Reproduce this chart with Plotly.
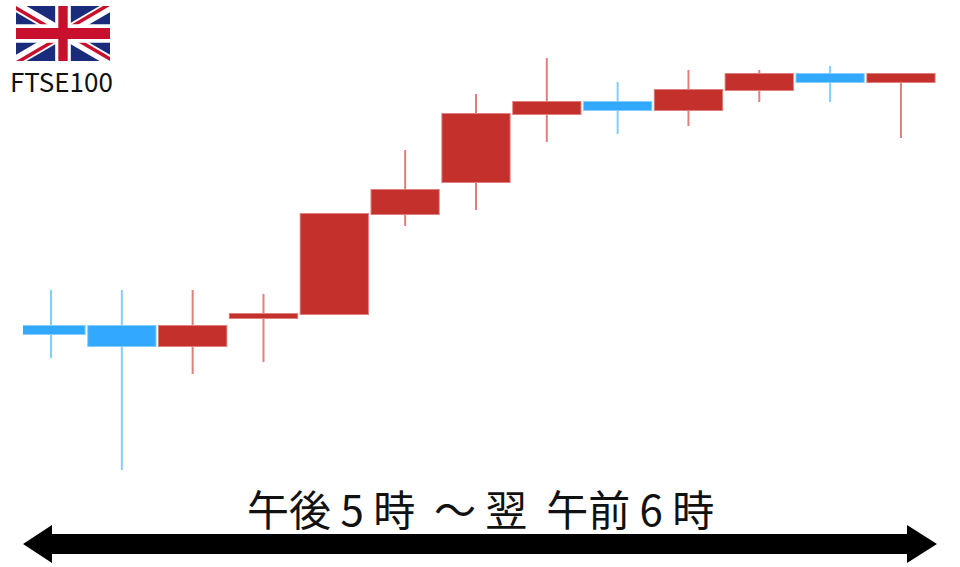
import plotly.graph_objects as go

# Session candles (index-like units)
sessions = list(range(13))
opens  = [136, 136, 131, 138, 139, 164, 172, 189, 192, 190, 195, 199, 197]
closes = [134, 131, 136, 139, 164, 170, 189, 192, 190, 195, 199, 197, 199]
highs  = [145, 145, 145, 144, 164, 180, 194, 203, 197, 200, 200, 201, 199]
lows   = [128, 100, 124, 127, 139, 161, 165, 182, 184, 186, 192, 192, 183]

TITLE = "午後 5 時\u00a0 ～ 翌\u00a0 午前 6 時"
INDEX_LABEL = "FTSE100"

RED, RED_WICK = "#C4302B", "#E17F7C"
BLUE, BLUE_WICK = "#33A8FF", "#80CFFF"
W, H = 960, 567

fig = go.Figure()
# thin, lighter wicks underneath
fig.add_trace(go.Candlestick(
    x=sessions, open=opens, close=closes, high=highs, low=lows,
    increasing=dict(line=dict(color=RED_WICK, width=2), fillcolor=RED_WICK),
    decreasing=dict(line=dict(color=BLUE_WICK, width=2), fillcolor=BLUE_WICK),
    showlegend=False, hoverinfo="skip",
))
# solid bodies on top
fig.add_trace(go.Candlestick(
    x=sessions, open=opens, close=closes,
    high=[max(o, c) for o, c in zip(opens, closes)],
    low=[min(o, c) for o, c in zip(opens, closes)],
    increasing=dict(line=dict(color=RED, width=0), fillcolor=RED),
    decreasing=dict(line=dict(color=BLUE, width=0), fillcolor=BLUE),
    showlegend=False,
))


def px_path(points):
    return "M" + " L".join(f"{x / W:.5f},{1 - y / H:.5f}" for x, y in points) + " Z"


def poly(points, color):
    return dict(type="path", xref="paper", yref="paper", path=px_path(points),
                fillcolor=color, line=dict(width=0), layer="above")


# Union Jack from flag-space polygons (60 x 30)
FX, FY, FW, FH = 16, 6, 94, 55
FLAG_BLUE, FLAG_RED = "#1A2B7C", "#C8102E"


def flag(points, color):
    return poly([(FX + x / 60 * FW, FY + y / 30 * FH) for x, y in points], color)


shapes = [
    flag([(0, 0), (60, 0), (60, 30), (0, 30)], FLAG_BLUE),
    flag([(0, 0), (6.7, 0), (60, 26.65), (60, 30), (53.3, 30), (0, 3.35)], "white"),
    flag([(60, 0), (60, 3.35), (6.7, 30), (0, 30), (0, 26.65), (53.3, 0)], "white"),
    flag([(0, 0), (30, 15), (30, 17.236), (0, 2.236)], FLAG_RED),
    flag([(30, 15), (60, 0), (55.53, 0), (30, 12.764)], FLAG_RED),
    flag([(60, 30), (30, 15), (30, 12.764), (60, 27.764)], FLAG_RED),
    flag([(30, 15), (0, 30), (4.47, 30), (30, 17.236)], FLAG_RED),
    flag([(25, 0), (35, 0), (35, 30), (25, 30)], "white"),
    flag([(0, 10), (60, 10), (60, 20), (0, 20)], "white"),
    flag([(27, 0), (33, 0), (33, 30), (27, 30)], FLAG_RED),
    flag([(0, 12), (60, 12), (60, 18), (0, 18)], FLAG_RED),
    # double-headed arrow
    poly([(23, 544), (52, 525), (52, 534), (907, 534), (907, 525), (937, 544),
          (907, 563), (907, 554), (52, 554), (52, 563)], "black"),
]

fig.update_layout(
    width=W, height=H, margin=dict(l=0, r=0, t=0, b=0),
    paper_bgcolor="white", plot_bgcolor="white", showlegend=False,
    boxgap=0.05, boxgroupgap=0, boxmode="overlay",
    shapes=shapes,
    xaxis=dict(domain=[23 / W, 1], range=[-28 / 70.83, 909 / 70.83], visible=False,
               rangeslider=dict(visible=False), fixedrange=True),
    yaxis=dict(range=[75.75, 217.5], visible=False, fixedrange=True),
    annotations=[
        dict(text=INDEX_LABEL, xref="paper", yref="paper", x=61 / W, y=1 - 81 / H,
             showarrow=False, xanchor="center", yanchor="middle",
             font=dict(family="Noto Sans CJK JP", size=26, color="#111111")),
        dict(text=TITLE, xref="paper", yref="paper", x=480 / W, y=1 - 507 / H,
             showarrow=False, xanchor="center", yanchor="middle",
             font=dict(family="Noto Sans CJK JP", size=42, color="#111111")),
    ],
)

fig.write_html("out.html", config=dict(displayModeBar=False),
               post_script="document.body.style.margin='0';document.body.style.overflow='hidden';")
